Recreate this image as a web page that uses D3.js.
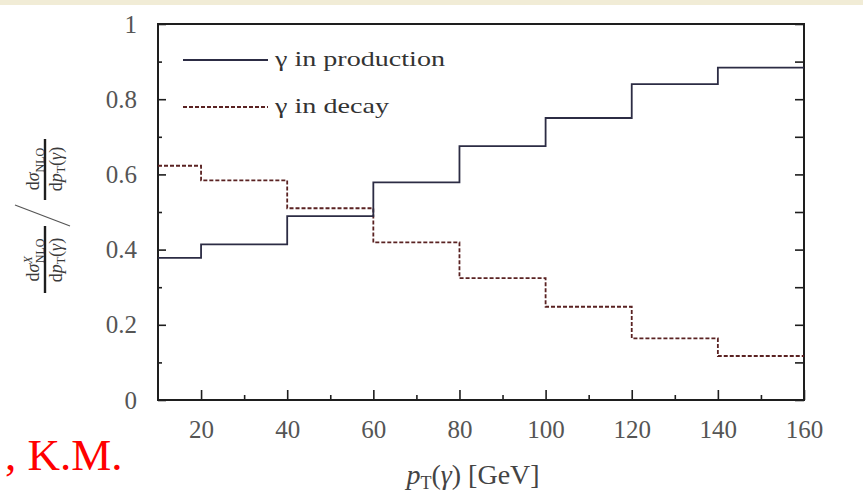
<!DOCTYPE html>
<html>
<head>
<meta charset="utf-8">
<script src="https://cdn.jsdelivr.net/npm/d3@7"></script>
<style>
  html, body { margin: 0; padding: 0; background: #ffffff; }
  svg { display: block; }
</style>
</head>
<body>
<svg id="chart" width="863" height="494"></svg>
<script>
// Bin edges in pT(γ) [GeV] and the fractional NLO contribution per bin
const binEdges = [10, 20, 40, 60, 80, 100, 120, 140, 160];
const production = [0.378, 0.414, 0.489, 0.579, 0.675, 0.750, 0.840, 0.884];
const decay = [0.623, 0.584, 0.510, 0.419, 0.324, 0.248, 0.164, 0.117];
const seriesNames = ["γ in production", "γ in decay"];
const xMajorTicks = [20, 40, 60, 80, 100, 120, 140, 160];
const xMinorTicks = [30, 50, 70, 90, 110, 130, 150];
const yMajorTicks = [0, 0.2, 0.4, 0.6, 0.8, 1];
const yMinorTicks = [0.1, 0.3, 0.5, 0.7, 0.9];
const yTickLabels = ["0", "0.2", "0.4", "0.6", "0.8", "1"];

const svg = d3.select("#chart");
const W = 863, H = 494;
const m = { left: 158, right: 59, top: 24, bottom: 94 };

const x = d3.scaleLinear().domain([10, 160]).range([m.left, W - m.right]);
const y = d3.scaleLinear().domain([0, 1]).range([H - m.bottom, m.top]);

const serif = "'Liberation Serif', 'Times New Roman', serif";

// pale strip along the top edge
svg.append("rect").attr("x", 0).attr("y", 0).attr("width", W).attr("height", 5)
  .attr("fill", "#f1ecd6");

// ----- axes -----
function styleAxis(g) {
  g.select(".domain").remove();
  g.selectAll(".tick line").attr("stroke", "#1e1e1e").attr("stroke-width", 1.6);
  g.selectAll(".tick text").attr("fill", "#555")
    .style("font-family", serif).style("font-size", "25px");
}

svg.append("g").attr("transform", `translate(0,${y(0)})`)
  .call(d3.axisBottom(x).tickValues(xMajorTicks).tickSize(-10).tickPadding(20)
    .tickFormat(d3.format("d")))
  .call(styleAxis);
svg.append("g").attr("transform", `translate(0,${y(0)})`)
  .call(d3.axisBottom(x).tickValues(xMinorTicks).tickSize(-5).tickFormat(""))
  .call(styleAxis);

svg.append("g").attr("transform", `translate(${x(10)},0)`)
  .call(d3.axisLeft(y).tickValues(yMajorTicks).tickSize(-8).tickPadding(21)
    .tickFormat((d, i) => yTickLabels[i]))
  .call(styleAxis);
svg.append("g").attr("transform", `translate(${x(10)},0)`)
  .call(d3.axisLeft(y).tickValues(yMinorTicks).tickSize(-4).tickFormat(""))
  .call(styleAxis);

svg.append("g").attr("transform", `translate(${x(160)},0)`)
  .call(d3.axisRight(y).tickValues(yMajorTicks.concat(yMinorTicks)).tickSize(-9).tickFormat(""))
  .call(styleAxis);

// frame
svg.append("rect")
  .attr("x", x(10)).attr("y", y(1))
  .attr("width", x(160) - x(10)).attr("height", y(0) - y(1))
  .attr("fill", "none").attr("stroke", "#1e1e1e").attr("stroke-width", 2);

// ----- step histograms -----
function stepPoints(vals) {
  const pts = vals.map((v, i) => [binEdges[i], v]);
  pts.push([binEdges[binEdges.length - 1], vals[vals.length - 1]]);
  return pts;
}
const line = d3.line().x(d => x(d[0])).y(d => y(d[1])).curve(d3.curveStepAfter);

const prodColor = "#2c2c44";
const decayColor = "#5a2222";

svg.append("path").datum(stepPoints(decay))
  .attr("d", line).attr("fill", "none")
  .attr("stroke", decayColor).attr("stroke-width", 1.8)
  .attr("stroke-dasharray", "4,2");
svg.append("path").datum(stepPoints(production))
  .attr("d", line).attr("fill", "none")
  .attr("stroke", prodColor).attr("stroke-width", 1.8);

// ----- legend -----
const legend = svg.append("g");
const legendRows = [
  { name: seriesNames[0], color: prodColor, dash: null, yPos: 60, len: 170 },
  { name: seriesNames[1], color: decayColor, dash: "4,2", yPos: 107, len: 114 }
];
legendRows.forEach(r => {
  legend.append("line")
    .attr("x1", 183).attr("x2", 268).attr("y1", r.yPos).attr("y2", r.yPos)
    .attr("stroke", r.color).attr("stroke-width", 1.8)
    .attr("stroke-dasharray", r.dash);
  legend.append("text")
    .attr("x", 275).attr("y", r.yPos + 6)
    .attr("fill", "#333")
    .attr("textLength", r.len).attr("lengthAdjust", "spacingAndGlyphs")
    .style("font-family", serif).style("font-size", "21px")
    .text(r.name);
});

// ----- x-axis title -----
const xt = svg.append("text")
  .attr("x", 473).attr("y", 484).attr("text-anchor", "middle")
  .attr("fill", "#444").style("font-family", serif).style("font-size", "28px");
xt.append("tspan").style("font-style", "italic").text("p");
xt.append("tspan").attr("dy", 5).style("font-size", "18px").text("T");
xt.append("tspan").attr("dy", -5).text("(");
xt.append("tspan").style("font-style", "italic").text("γ");
xt.append("tspan").text(") [GeV]");

// ----- y-axis title: ratio of two differential cross sections -----
const yl = svg.append("g").attr("transform", "translate(45,212) rotate(-90)")
  .attr("fill", "#3a3a3a").style("font-family", serif);

function fraction(cx, sup, x0, x1) {
  // numerator: dσ (sup) NLO
  const num = yl.append("text").attr("x", cx).attr("y", -6)
    .attr("text-anchor", "middle").style("font-size", "18px");
  num.append("tspan").text("d");
  num.append("tspan").style("font-style", "italic").text("σ");
  if (sup) {
    num.append("tspan").attr("dy", -7).style("font-size", "12px").style("font-style", "italic").text(sup);
    num.append("tspan").attr("dx", -7).attr("dy", 12).style("font-size", "12px").text("NLO");
  } else {
    num.append("tspan").attr("dy", 5).style("font-size", "12px").text("NLO");
  }
  // fraction bar
  yl.append("line").attr("x1", x0).attr("x2", x1).attr("y1", 0).attr("y2", 0)
    .attr("stroke", "#1e1e1e").attr("stroke-width", 2.4);
  // denominator: dp_T(γ)
  const den = yl.append("text").attr("x", cx).attr("y", 17)
    .attr("text-anchor", "middle").style("font-size", "18px");
  den.append("tspan").text("d");
  den.append("tspan").style("font-style", "italic").text("p");
  den.append("tspan").attr("dy", 3).style("font-size", "12px").text("T");
  den.append("tspan").attr("dy", -3).text("(");
  den.append("tspan").style("font-style", "italic").text("γ");
  den.append("tspan").text(")");
}
fraction(-48, "X", -81, -14);
fraction(43, null, 12, 73);
yl.append("line").attr("x1", -14).attr("y1", 25).attr("x2", 7).attr("y2", -30)
  .attr("stroke", "#555").attr("stroke-width", 1.2);

// ----- author note -----
svg.append("text")
  .attr("x", 5).attr("y", 470)
  .attr("fill", "#ff0000").style("font-family", serif).style("font-size", "45px")
  .text(", K.M.");
</script>
</body>
</html>
